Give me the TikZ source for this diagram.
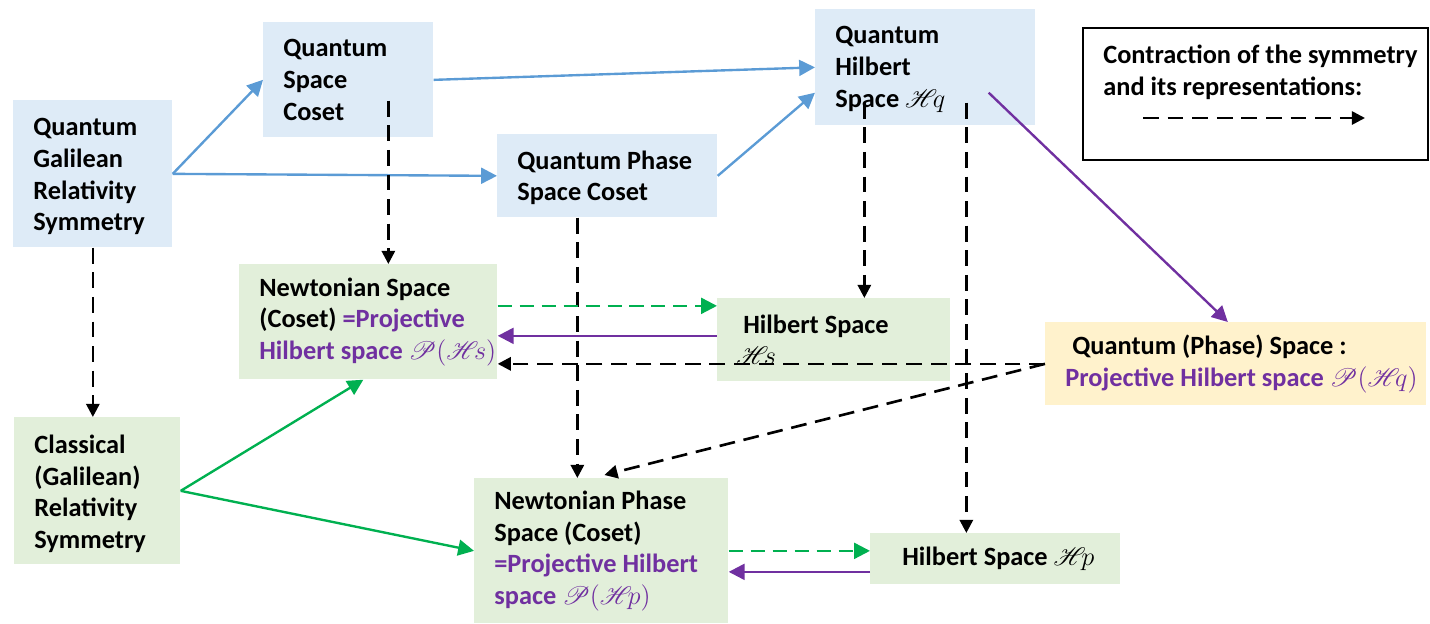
\RequirePackage{fix-cm}
\documentclass[tikz,border=0pt]{standalone}
\usepackage{fontspec}
\setmainfont{Carlito}
\usepackage{mathrsfs}
\usetikzlibrary{arrows.meta,calc}

\definecolor{qblue}{HTML}{5B9BD5}
\definecolor{qfill}{HTML}{DEEBF7}
\definecolor{cfill}{HTML}{E2EFDA}
\definecolor{yfill}{HTML}{FFF2CC}
\definecolor{ppurple}{HTML}{7030A0}
\definecolor{cgreen}{HTML}{00B050}

% script symbols
\newcommand{\scr}[1]{$#1$}

\tikzset{
	boxsize/.style 2 args={minimum width=#1*0.02cm, minimum height=#2*0.02cm},
	qbox/.style={anchor=north west, fill=qfill, inner sep=0pt},
	cbox/.style={anchor=north west, fill=cfill, inner sep=0pt},
	ybox/.style={anchor=north west, fill=yfill, inner sep=0pt},
	btext/.style={anchor=west, align=left, inner sep=0pt, xshift=0.4cm},
	qarr/.style={draw=qblue, line width=1.35pt, -{Triangle[length=9pt,width=9pt]}},
	parr/.style={draw=ppurple, line width=1.35pt, -{Triangle[length=9pt,width=9pt]}},
	garr/.style={draw=cgreen, line width=1.35pt, -{Triangle[length=9pt,width=9pt]}},
	gdash/.style={garr, dash pattern=on 8pt off 4.5pt},
	contr/.style={draw=black, line width=1.5pt, dash pattern=on 9pt off 5pt, -{Triangle[length=7.5pt,width=7.5pt]}}
}

\begin{document}
\begin{tikzpicture}[x=0.02cm, y=-0.02cm, font=\fontsize{15}{18}\selectfont\bfseries]
	\useasboundingbox (0,0) rectangle (1430,623);
	
	%quantum side
	\node[qbox, boxsize={159}{147}] (qgal) at (13,100) {};
	\node[btext] (qgal-t) at ($(qgal.west)+(0,3)$) {Quantum\\Galilean\\Relativity\\Symmetry};
	\node[qbox, boxsize={170}{115}] (qspace) at (263,22) {};
	\node[btext] (qspace-t) at (qspace.west) {Quantum\\Space\\Coset};
	\node[qbox, boxsize={220}{83}] (qphase) at (497,134) {};
	\node[btext] (qphase-t) at ($(qphase.west)+(0,2)$) {Quantum Phase\\Space Coset};
	\node[qbox, boxsize={220}{116}] (qhilb) at (815,9) {};
	\node[btext] (qhilb-t) at ($(qhilb.west)+(0,2)$) {Quantum\\Hilbert\\Space \scr{\mathscr{H}\!q}};
	\node[ybox, boxsize={381}{83}] (qpp) at (1045,322) {};
	\node[btext] (qpp-t) at (qpp.west) {\hspace*{0.14cm}Quantum (Phase) Space :\\
		\color{ppurple}Projective Hilbert space \scr{\mathscr{P}(\mathscr{H}\!q)}};
	
	%classical side
	\node[cbox, boxsize={166}{147}] (classical) at (14,417) {};
	\node[btext] (classical-t) at ($(classical.west)+(0,3)$) {Classical\\(Galilean)\\Relativity\\Symmetry};
	\node[cbox, boxsize={258}{115}] (newts) at (239,264) {};
	\node[btext] (newts-t) at (newts.west) {Newtonian Space\\
		(Coset) \textcolor{ppurple}{=Projective}\\
		\color{ppurple}Hilbert space \scr{\mathscr{P}(\mathscr{H}\!s)}};
	\node[cbox, boxsize={233}{83}] (hilbs) at (717,298) {};
	\node[btext] (hilbs-t) at (hilbs.west) {\hspace*{0.12cm}Hilbert Space\\\hspace*{-0.02cm}\scr{\mathscr{H}\!s}};
	\node[cbox, boxsize={254}{145}] (newtp) at (474,478) {};
	\node[btext] (newtp-t) at (newtp.west) {Newtonian Phase\\Space (Coset)\\
		\color{ppurple}=Projective Hilbert\\
		\color{ppurple}space \scr{\mathscr{P}(\mathscr{H}\!p)}};
	\node[cbox, boxsize={250}{51}] (hilbp) at (870,533) {};
	\node[btext] (hilbp-t) at (hilbp.west) {\hspace*{0.24cm}Hilbert Space \scr{\mathscr{H}\!p}};
	
	%legend
	\node[draw, line width=1pt, anchor=north west, inner sep=0pt, boxsize={345}{132}] (legend) at (1082,27) {};
	\node[anchor=north west, align=left, inner sep=0pt] (legend-t) at (1103,45)
	{Contraction of the symmetry\\and its representations:};
	\coordinate (leg-a) at (1143,118);
	\coordinate (leg-b) at (1365,118);
	\draw[contr] (leg-a) -- (leg-b);
	
	%symmetry -> cosets -> hilbert space
	\draw[qarr] (qgal.east) -- (qspace.west);
	\draw[qarr] (qgal.east) -- (qphase.west);
	\draw[qarr] (qspace.east) -- (qhilb.west);
	\draw[qarr] (qphase.east) -- ($(qhilb.south west)+(0,-33)$);
	\draw[parr] ($(qhilb.south east)+(-47,-33)$) -- ($(qpp.north)+(-8,0)$);
	
	\draw[garr] (classical.east) -- ($(newts.south)+(-5,0)$);
	\draw[garr] (classical.east) -- (newtp.west);
	
	%contractions
	\coordinate (qs-out) at ($(qspace.south)+(40,-37)$);
	\coordinate (qp-out) at ($(qphase.south)+(-30,0)$);
	\coordinate (qh-a) at ($(qhilb.south)+(-61,-23)$);
	\coordinate (qh-b) at ($(qhilb.south)+(41,-23)$);
	\draw[contr] (qgal.south) -- (qgal.south |- classical.north);
	\draw[contr] (qs-out) -- (qs-out |- newts.north);
	\draw[contr] (qp-out) -- (qp-out |- newtp.north);
	\draw[contr] (qh-a) -- (qh-a |- hilbs.north);
	\draw[contr] (qh-b) -- (qh-b |- hilbp.north);
	\draw[contr] (qpp.west) -- (qpp.west -| newts.east);
	\draw[contr] (qpp.west) -- ($(newtp.north)+(3,-3)$);
	
	%representations <-> projective spaces
	\coordinate (ns-out) at ($(newts.east)+(0,-16)$);
	\coordinate (hs-in) at ($(hilbs.west)+(0,-4)$);
	\coordinate (hp-in) at ($(hilbp.west)+(0,13)$);
	\draw[gdash] (ns-out) -- (ns-out -| hilbs.west);
	\draw[parr] (hs-in) -- (hs-in -| newts.east);
	\draw[gdash] (newtp.east) -- (newtp.east -| hilbp.west);
	\draw[parr] (hp-in) -- (hp-in -| newtp.east);
\end{tikzpicture}
\end{document}
